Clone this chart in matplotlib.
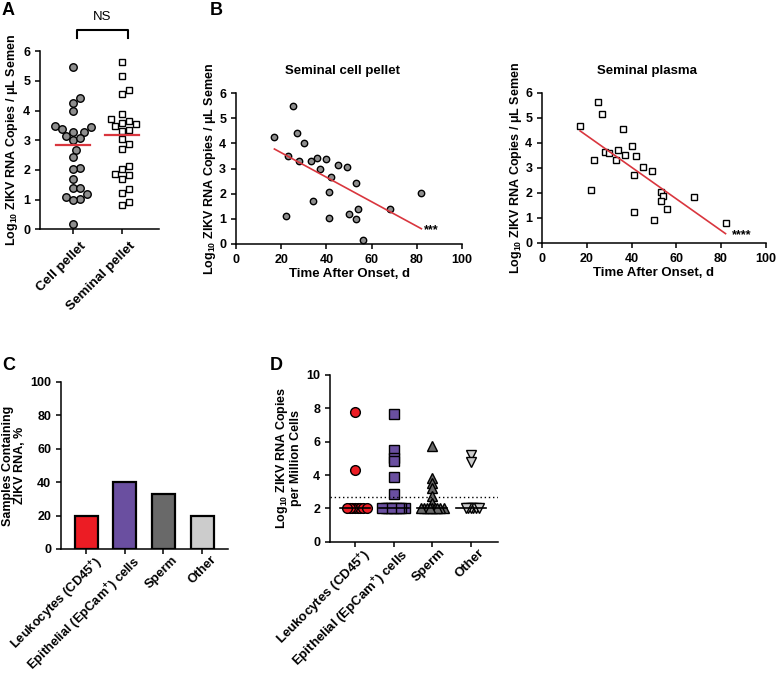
import numpy as np
import matplotlib
matplotlib.use('Agg')
import matplotlib.pyplot as plt
from matplotlib.transforms import ScaledTranslation

plt.rcParams['font.family'] = ['Liberation Sans', 'DejaVu Sans']
plt.rcParams['font.weight'] = 'bold'
plt.rcParams['axes.labelweight'] = 'bold'
plt.rcParams['mathtext.fontset'] = 'custom'
plt.rcParams['mathtext.rm'] = 'Liberation Sans:bold'
plt.rcParams['mathtext.default'] = 'rm'
plt.rcParams['axes.linewidth'] = 1.1
plt.rcParams['xtick.major.width'] = 1.1
plt.rcParams['ytick.major.width'] = 1.1
plt.rcParams['xtick.major.size'] = 3.5
plt.rcParams['ytick.major.size'] = 3.5
plt.rcParams['xtick.labelsize'] = 9
plt.rcParams['ytick.labelsize'] = 9

# --- data ---
# seminal cell pellet: days after onset vs log10 copies
days_pellet = [17, 25, 27, 30, 23, 28, 33, 36, 37, 40, 45, 49,
               42, 53, 41, 34, 22, 41, 50, 53, 54, 68, 82, 56]
log_pellet = [4.25, 5.48, 4.43, 4.0, 3.48, 3.28, 3.28, 3.43, 2.99, 3.39, 3.15, 3.06,
              2.67, 2.44, 2.07, 1.69, 1.1, 1.03, 1.2, 1.0, 1.4, 1.4, 2.04, 0.16]
# seminal plasma
days_plasma = [17, 25, 27, 36, 23, 22, 28, 30, 34, 33, 37, 40,
               42, 45, 41, 49, 41, 50, 53, 54, 53, 56, 68, 82]
log_plasma = [4.68, 5.64, 5.16, 4.55, 3.32, 2.13, 3.64, 3.59, 3.72, 3.33, 3.53, 3.89,
              3.49, 3.05, 2.71, 2.88, 1.23, 0.93, 2.03, 1.87, 1.68, 1.35, 1.84, 0.81]

groups_a = ['Cell pellet', 'Seminal pellet']

cell_types = ['Leukocytes (CD45$^{+}$)', 'Epithelial (EpCam$^{+}$) cells', 'Sperm', 'Other']
pct_positive = [20, 40, 33, 20]
bar_colors = ['#EC1C24', '#6A4FA0', '#696969', '#CCCCCC']

leuko = [7.77, 4.3, 2.0, 2.0, 2.0, 2.0, 2.0, 2.0, 2.0, 2.0]
epith = [7.68, 5.51, 5.01, 4.85, 3.87, 2.87, 2.0, 2.0, 2.0, 2.0, 2.0, 2.0, 2.0, 2.0, 2.0]
sperm = [5.75, 3.81, 3.51, 3.21, 2.75, 2.35, 2.0, 2.0, 2.0, 2.0, 2.0, 2.0, 2.0, 2.0, 2.0]
other = [5.2, 4.8, 2.0, 2.0, 2.0, 2.0, 2.0, 2.0]
lod_line = 2.7
d_markers = ['o', 's', '^', 'v']


def swarm(vals, xpx, ypx, gap):
    """x offsets (data units) so markers sit side by side, pixel scales given"""
    vals = np.asarray(vals, float)
    order = np.argsort(vals)
    placed = []
    offs = np.zeros(len(vals))
    step = gap / 2.0
    for i in order:
        y = vals[i] * ypx
        k = 0
        while True:
            cands = [0.0] if k == 0 else [k * step, -k * step]
            ok = None
            for c in cands:
                if all((c - px) ** 2 + (y - py) ** 2 >= gap ** 2 for px, py in placed):
                    ok = c
                    break
            if ok is not None:
                break
            k += 1
        placed.append((ok, y))
        offs[i] = ok / xpx
    return offs


def clean(ax):
    ax.spines['top'].set_visible(False)
    ax.spines['right'].set_visible(False)


def slant(ax, labels, dx=0.07, dy=-0.04, size=9.7):
    ax.set_xticklabels(labels, rotation=45, ha='right', rotation_mode='anchor', fontsize=size)
    shift = ScaledTranslation(dx, dy, fig.dpi_scale_trans)
    for t in ax.get_xticklabels():
        t.set_transform(t.get_transform() + shift)


fig = plt.figure(figsize=(7.77, 6.74), dpi=100)

# ---------------- A ----------------
axA = fig.add_axes([0.0515, 0.660, 0.153, 0.264])
clean(axA)
for i, (vals, mk, fc, ms) in enumerate([(log_pellet, 'o', '#8E8E8E', 5.4),
                                        (log_plasma, 's', 'white', 5.0)]):
    offs = swarm(vals, 49, 29.67, 7.2)
    axA.plot(i + offs, vals, mk, ms=ms, mfc=fc, mec='black', mew=1.0, ls='none', clip_on=False)
    med = np.median(vals)
    axA.plot([i - 0.35, i + 0.35], [med, med], color='#D9363E', lw=1.6, zorder=5)
axA.set_xlim(-0.67, 1.76)
axA.set_ylim(0, 6)
axA.set_yticks(range(7))
axA.set_xticks([0, 1])
slant(axA, groups_a, dy=-0.01)
axA.set_ylabel('Log$_{10}$ ZIKV RNA Copies / \u03bcL Semen', fontsize=9, labelpad=2)
axA.plot([0.08, 0.08, 1.12, 1.12], [6.44, 6.7, 6.7, 6.44], color='black', lw=1.5, clip_on=False)
axA.text(0.6, 6.95, 'NS', ha='center', va='bottom', fontsize=9.5, fontweight='normal')

# ---------------- B ----------------
b_axes = [
    ([0.3037, 0.638, 0.291, 0.224], days_pellet, log_pellet, 'o', '#8E8E8E', 4.6,
     'Seminal cell pellet', '***', (83, 0.55)),
    ([0.6976, 0.6395, 0.288, 0.2226], days_plasma, log_plasma, 's', 'white', 4.4,
     'Seminal plasma', '****', (85, 0.3)),
]
for pos, xd, yd, mk, fc, ms, title, stars, spos in b_axes:
    ax = fig.add_axes(pos)
    clean(ax)
    ax.plot(xd, yd, mk, ms=ms, mfc=fc, mec='black', mew=1.0, ls='none', clip_on=False)
    slope, icpt = np.polyfit(xd, yd, 1)
    xl = np.array([min(xd), max(xd)])
    ax.plot(xl, slope * xl + icpt, color='#D9363E', lw=1.2)
    ax.set_xlim(0, 100)
    ax.set_ylim(0, 6)
    ax.set_xticks(range(0, 101, 20))
    ax.set_yticks(range(7))
    ax.set_xlabel('Time After Onset, d', fontsize=9.5, labelpad=2)
    ax.set_ylabel('Log$_{10}$ ZIKV RNA Copies / \u03bcL Semen', fontsize=9, labelpad=1)
    ax.set_title(title, fontsize=9.5, fontweight='bold', pad=14, x=0.47)
    ax.text(spos[0], spos[1], stars, fontsize=9, va='center', ha='left')

# ---------------- C ----------------
axC = fig.add_axes([0.0785, 0.1855, 0.215, 0.248])
clean(axC)
xc = np.arange(len(cell_types))
axC.bar(xc, pct_positive, width=0.6, color=bar_colors, edgecolor='black', linewidth=1.6)
axC.set_xlim(-0.65, 3.67)
axC.set_ylim(0, 100)
axC.set_yticks(range(0, 101, 20))
axC.set_xticks(xc)
slant(axC, cell_types, dx=0.08, dy=0.05, size=9.3)
axC.set_ylabel('Samples Containing\nZIKV RNA, %', fontsize=9, labelpad=3, linespacing=1.05)

# ---------------- D ----------------
axD = fig.add_axes([0.4247, 0.196, 0.216, 0.248])
clean(axD)
for i, vals in enumerate([leuko, epith, sperm, other]):
    offs = swarm(vals, 38.7, 16.7, 2.6)
    axD.plot(i + offs, vals, d_markers[i], ms=7.0, mfc=bar_colors[i], mec='black',
             mew=1.0, ls='none', clip_on=False)
    med = np.median(vals)
    axD.plot([i - 0.39, i + 0.39], [med, med], color='black', lw=1.2, zorder=5)
axD.axhline(lod_line, color='black', lw=1.0, ls=(0, (1, 2)))
axD.set_xlim(-0.65, 3.7)
axD.set_ylim(0, 10)
axD.set_yticks(range(0, 11, 2))
axD.set_xticks(xc)
slant(axD, cell_types, dy=0.05, size=9.5)
axD.set_ylabel('Log$_{10}$ ZIKV RNA Copies\nper Million Cells', fontsize=9, labelpad=3,
               linespacing=1.05)

# panel letters
for lbl, x, y in [('A', 2, 2), ('B', 210, 2), ('C', 2, 357), ('D', 270, 357)]:
    fig.text(x / 777, 1 - y / 674, lbl, fontsize=13, fontweight='bold', va='top', ha='left')

fig.savefig('out.png', dpi=100)
